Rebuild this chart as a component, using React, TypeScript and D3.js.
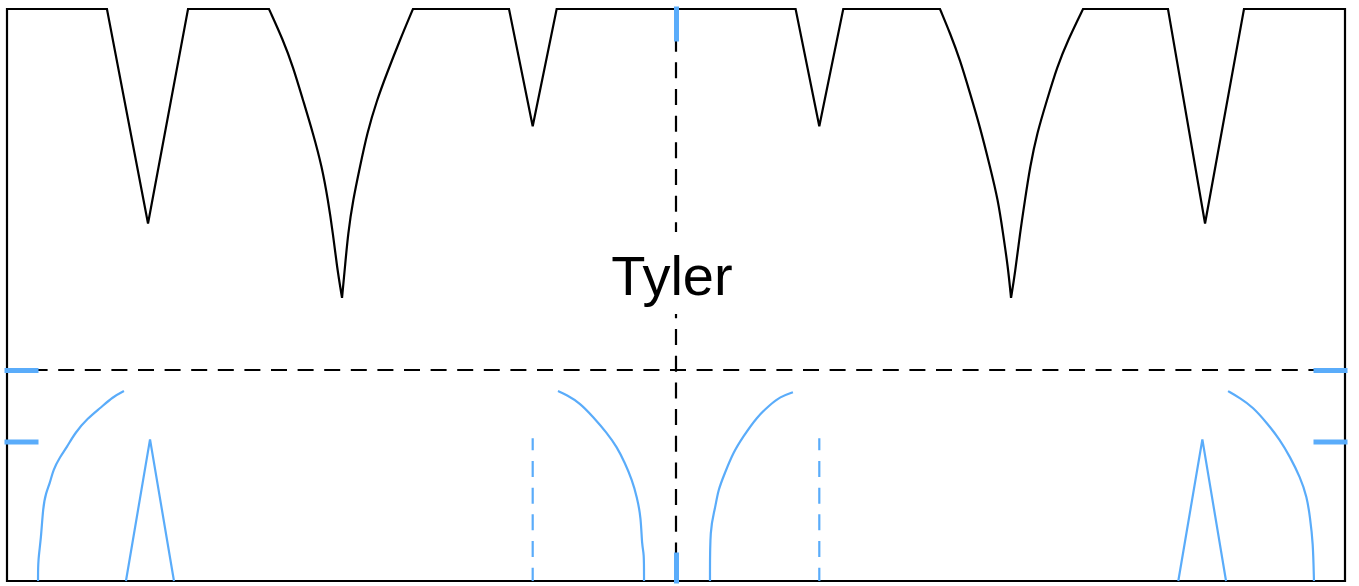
import React, { useEffect, useRef } from 'react'
import * as d3 from 'd3'

type Pt = [number, number]

// chart units: x 0..100 across the frame, y 0..100 from the bottom edge up
// the frame outline is walked clockwise from the bottom-left corner;
// straight runs and the two curved notches alternate
const frameStart: Pt[] = [
  [0, 0], [0, 100],
  [7.47, 100], [10.54, 62.5], [13.53, 100],
  [19.58, 100]
]
const notchLeftDown: Pt[] = [
  [19.58, 100], [20.63, 94.6], [21.38, 89.9], [22.12, 84.1], [22.87, 78.3], [23.54, 72.4],
  [23.99, 66.6], [24.36, 60.8], [24.66, 54.9], [25.04, 49.5]
]
const notchLeftUp: Pt[] = [
  [25.04, 49.5], [25.26, 54.9], [25.49, 60.8], [25.86, 66.6], [26.38, 72.4], [26.91, 78.3],
  [27.65, 84.1], [28.4, 88.8], [29.37, 94.6], [30.34, 100]
]
const frameMiddle: Pt[] = [
  [30.34, 100],
  [37.52, 100], [39.29, 79.5], [41.08, 100],
  [58.94, 100], [60.71, 79.5], [62.5, 100],
  [69.73, 100]
]
const notchRightDown: Pt[] = [
  [69.73, 100], [70.48, 95.8], [71.23, 91.1], [71.97, 85.3], [72.72, 79.4], [73.47, 72.4],
  [74.07, 66.6], [74.44, 60.8], [74.81, 54.9], [75.04, 49.5]
]
const notchRightUp: Pt[] = [
  [75.04, 49.5], [75.34, 53.8], [75.71, 60.8], [76.08, 66.6], [76.46, 72.4], [76.98, 78.3],
  [77.73, 84.1], [78.48, 89.9], [79.3, 94.6], [80.42, 100]
]
const frameEnd: Pt[] = [
  [80.42, 100],
  [86.77, 100], [89.54, 62.5], [92.45, 100],
  [100, 100], [100, 0]
]

const arcOuterLeft: Pt[] = [
  [2.32, 0], [2.32, 3.7], [2.54, 7.2], [2.69, 12.9], [2.91, 15.4], [3.21, 17.1], [3.44, 19.4],
  [3.96, 21.7], [4.48, 23.4], [5.08, 25.9], [6.05, 28.5], [6.95, 30.2], [7.92, 32.2], [8.74, 33.2]
]
const arcInnerLeft: Pt[] = [
  [41.18, 33.2], [41.85, 32.5], [42.83, 31.1], [43.8, 28.7], [44.84, 25.9], [45.59, 23.4],
  [46.19, 20.6], [46.71, 17.7], [47.08, 14.7], [47.38, 11.2], [47.46, 5.9], [47.61, 5.1], [47.61, 0]
]
const arcInnerRight: Pt[] = [
  [58.74, 33.0], [57.77, 32.2], [57.03, 30.8], [56.05, 28.7], [55.01, 25.2], [54.26, 22.4],
  [53.66, 18.9], [53.14, 15.9], [52.91, 12.4], [52.54, 9.4], [52.54, 0]
]
const arcOuterRight: Pt[] = [
  [91.26, 33.2], [92.15, 32.0], [93.12, 30.4], [94.17, 27.6], [95.14, 24.7], [95.89, 21.7],
  [96.64, 18.2], [97.16, 14.7], [97.38, 11.2], [97.61, 6.8], [97.68, 0]
]

const spikeLeft: Pt[] = [[8.89, 0], [10.69, 24.75], [12.48, 0]]
const spikeRight: Pt[] = [[87.54, 0], [89.34, 24.75], [91.11, 0]]

const dropLinesX = [39.29, 60.71]
const dropTop = 24.95

const guideY = 36.89
const guideX = 50
const sideTicks = [36.89, 24.39]
const centerTicks = [50]

const label = 'Tyler'
const labelPos: Pt = [49.7, 50]

const BLUE = '#5aacfa'

const App = () => {
  const chartRef = useRef<HTMLDivElement>(null)

  useEffect(() => {
    const width = 1359
    const height = 586

    const x = d3.scaleLinear().domain([0, 100]).range([7, 1345])
    const y = d3.scaleLinear().domain([0, 100]).range([581, 9])
    const straight = d3.line<Pt>().x(d => x(d[0])).y(d => y(d[1]))
    const smooth = d3.line<Pt>().x(d => x(d[0])).y(d => y(d[1])).curve(d3.curveBasis)

    const svg = d3.select(chartRef.current)
      .append('svg')
      .attr('width', width)
      .attr('height', height)
      .style('position', 'absolute')
      .style('left', 0)
      .style('top', 0)
      .style('background', '#fff')

    // dashed guides
    svg.append('line')
      .attr('x1', x(0)).attr('x2', x(100))
      .attr('y1', y(guideY)).attr('y2', y(guideY))
      .attr('stroke', '#000').attr('stroke-width', 2.2)
      .attr('stroke-dasharray', '16,10.6').attr('stroke-dashoffset', 2)

    svg.append('line')
      .attr('x1', x(guideX)).attr('x2', x(guideX))
      .attr('y1', y(100)).attr('y2', y(0))
      .attr('stroke', '#000').attr('stroke-width', 2.2)
      .attr('stroke-dasharray', '16,10.67')

    // label with a white patch behind it
    svg.append('rect')
      .attr('x', x(labelPos[0]) - 70)
      .attr('y', y(labelPos[1]) - 63)
      .attr('width', 140)
      .attr('height', 82)
      .attr('fill', '#fff')

    svg.append('text')
      .attr('x', x(labelPos[0]))
      .attr('y', y(labelPos[1]))
      .attr('text-anchor', 'middle')
      .attr('font-family', '"Liberation Sans", Arial, sans-serif')
      .attr('font-size', 56)
      .attr('fill', '#000')
      .text(label)

    // frame with notches, stitched into one path
    const pieces = [
      straight(frameStart),
      smooth(notchLeftDown), smooth(notchLeftUp),
      straight(frameMiddle),
      smooth(notchRightDown), smooth(notchRightUp),
      straight(frameEnd)
    ]
    const framePath = pieces.map((p, i) => (i === 0 ? p : 'L' + p.slice(1))).join('') + 'Z'

    svg.append('path')
      .attr('d', framePath)
      .attr('fill', 'none')
      .attr('stroke', '#000')
      .attr('stroke-width', 2.2)

    // blue marks
    svg.selectAll('path.arc')
      .data([arcOuterLeft, arcInnerLeft, arcInnerRight, arcOuterRight])
      .join('path')
      .attr('class', 'arc')
      .attr('d', d => smooth(d))
      .attr('fill', 'none')
      .attr('stroke', BLUE)
      .attr('stroke-width', 2.2)

    svg.selectAll('path.spike')
      .data([spikeLeft, spikeRight])
      .join('path')
      .attr('class', 'spike')
      .attr('d', d => straight(d))
      .attr('fill', 'none')
      .attr('stroke', BLUE)
      .attr('stroke-width', 2.2)

    svg.selectAll('line.drop')
      .data(dropLinesX)
      .join('line')
      .attr('class', 'drop')
      .attr('x1', d => x(d)).attr('x2', d => x(d))
      .attr('y1', y(dropTop)).attr('y2', y(0))
      .attr('stroke', BLUE).attr('stroke-width', 2.2)
      .attr('stroke-dasharray', '16,10.67').attr('stroke-dashoffset', 4)

    // blue ticks on the four sides
    const styleTicks = (g) => {
      g.select('.domain').remove()
      g.selectAll('.tick line')
        .attr('stroke', BLUE)
        .attr('stroke-width', 5)
        .attr('stroke-linecap', 'square')
    }

    svg.append('g')
      .attr('transform', `translate(${x(0)},0)`)
      .call(d3.axisLeft(y).tickValues(sideTicks).tickSize(-29).tickFormat(() => ''))
      .call(styleTicks)

    svg.append('g')
      .attr('transform', `translate(${x(100)},0)`)
      .call(d3.axisRight(y).tickValues(sideTicks).tickSize(-29).tickFormat(() => ''))
      .call(styleTicks)

    svg.append('g')
      .attr('transform', `translate(0,${y(100)})`)
      .call(d3.axisTop(x).tickValues(centerTicks).tickSize(-30).tickFormat(() => ''))
      .call(styleTicks)

    svg.append('g')
      .attr('transform', `translate(0,${y(0)})`)
      .call(d3.axisBottom(x).tickValues(centerTicks).tickSize(-26).tickFormat(() => ''))
      .call(styleTicks)

    return () => {
      d3.select(chartRef.current).selectAll('*').remove()
    }
  }, [])

  return <div ref={chartRef} />
}

export default App
